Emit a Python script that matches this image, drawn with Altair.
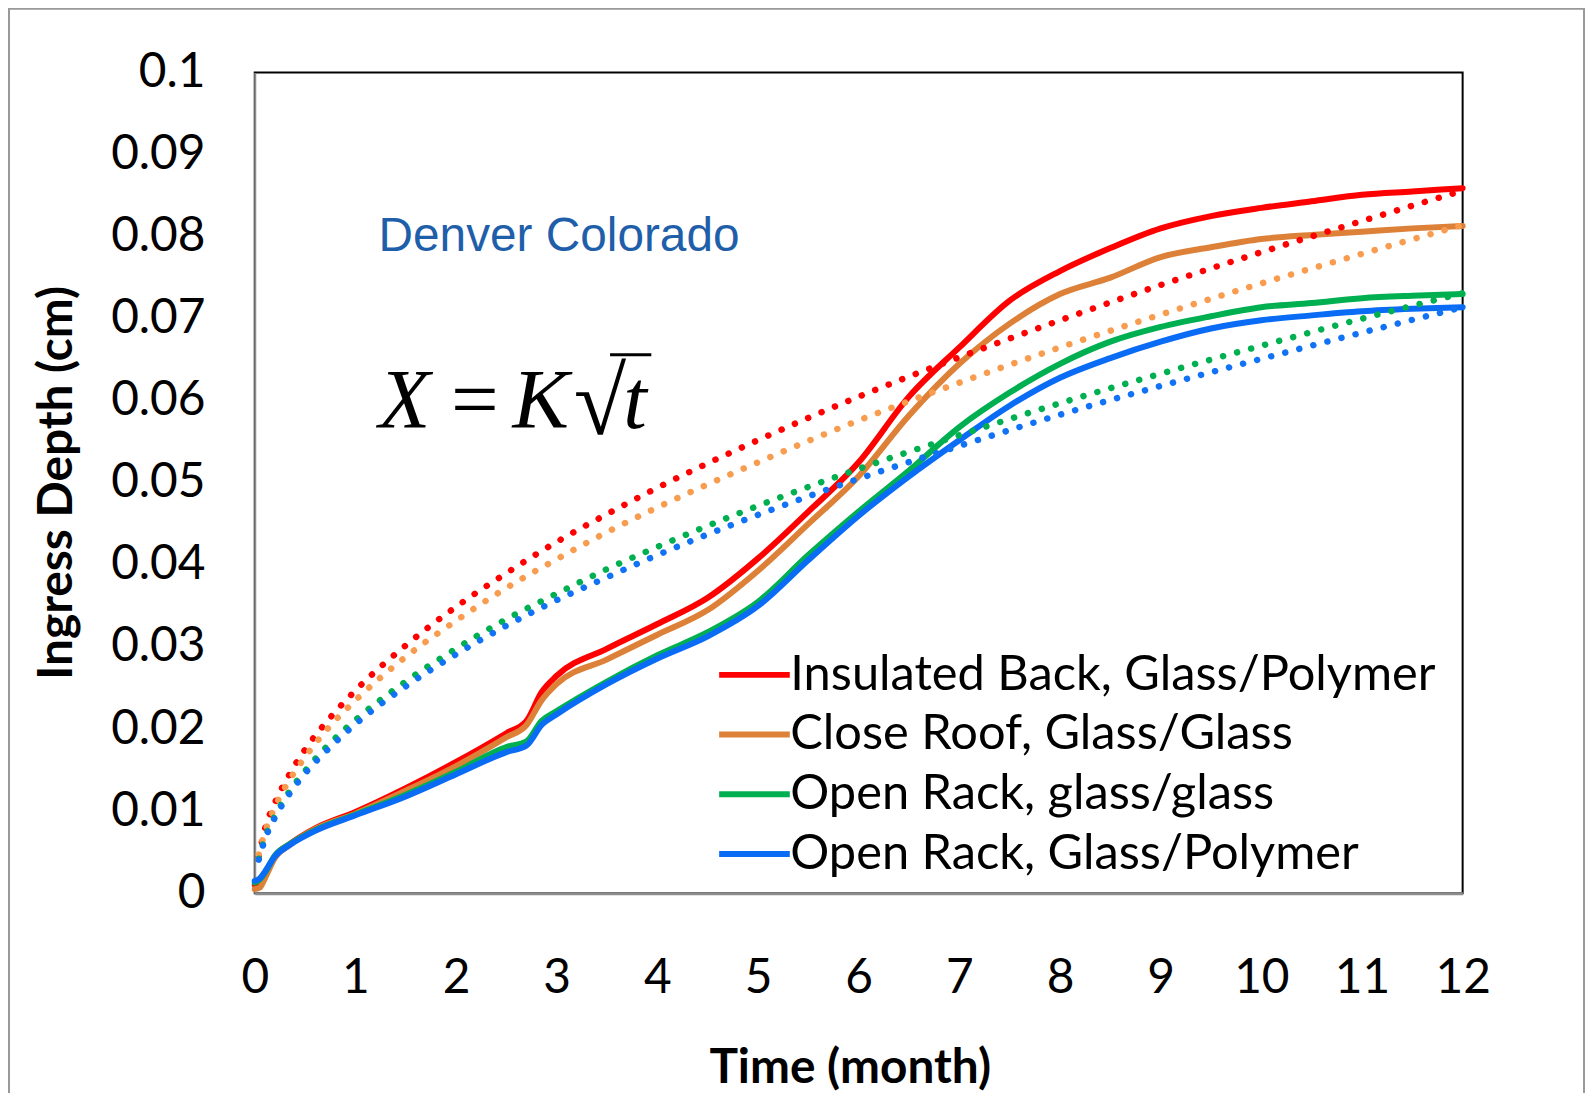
import altair as alt
import pandas as pd

# ---------------- data ----------------
series = ["Insulated Back, Glass/Polymer", "Close Roof, Glass/Glass",
          "Open Rack, glass/glass", "Open Rack, Glass/Polymer"]
solid_colors = ["#FF0000", "#DD8038", "#00B050", "#0A6CF5"]
dotted_colors = ["#FF0000", "#F89C50", "#00B050", "#1272F5"]

t_solid = [0, 0.05, 0.1, 0.2, 0.35, 0.6, 1, 1.5, 2, 2.5, 2.7, 2.85, 3, 3.5, 4, 4.5,
           5, 5.5, 6, 6.5, 7, 7.5, 8, 8.5, 9, 9.5, 10, 10.5, 11, 11.5, 12]
insulated = [0.001, 0.0012, 0.0022, 0.0045, 0.006, 0.0079, 0.0099, 0.0128, 0.016, 0.0195,
             0.021, 0.0245, 0.0265, 0.0298, 0.0328, 0.036, 0.0408, 0.0465, 0.0525, 0.0605,
             0.0665, 0.0722, 0.0758, 0.0786, 0.081, 0.0825, 0.0835, 0.0843, 0.0851, 0.0855, 0.0859]
close_roof = [0.0005, 0.0007, 0.0018, 0.0043, 0.0059, 0.0078, 0.0097, 0.0125, 0.0155, 0.019,
              0.0205, 0.0235, 0.0255, 0.0285, 0.0315, 0.0345, 0.0393, 0.045, 0.0508, 0.0582,
              0.0645, 0.0694, 0.073, 0.075, 0.0775, 0.0787, 0.0797, 0.0802, 0.0806, 0.081, 0.0813]
open_gg = [0.0013, 0.0017, 0.0025, 0.0046, 0.006, 0.0077, 0.0096, 0.012, 0.0148, 0.0178,
           0.0185, 0.021, 0.0222, 0.0258, 0.029, 0.0318, 0.0355, 0.0412, 0.0465, 0.0515,
           0.0568, 0.061, 0.0645, 0.0672, 0.069, 0.0703, 0.0714, 0.0719, 0.0725, 0.0728, 0.073]
open_gp = [0.0015, 0.0018, 0.0026, 0.0045, 0.0059, 0.0076, 0.0095, 0.0118, 0.0145, 0.0172,
           0.018, 0.0205, 0.0218, 0.0255, 0.0286, 0.0313, 0.035, 0.0406, 0.046, 0.0508,
           0.0552, 0.0594, 0.0628, 0.0652, 0.0672, 0.0688, 0.0698, 0.0704, 0.0709, 0.0712, 0.0714]

t_fit = [0.04, 0.1, 0.2, 0.35, 0.5, 0.75, 1, 1.5, 2, 2.5, 3, 3.5, 4, 5, 6, 7, 8, 9, 10, 11, 12]
fit_insulated = [0.0045, 0.0078, 0.011, 0.0146, 0.0175, 0.0214, 0.0247, 0.0302, 0.0349, 0.039,
                 0.0428, 0.0462, 0.0494, 0.0552, 0.0605, 0.0653, 0.0698, 0.0741, 0.0781, 0.0819, 0.0856]
fit_close_roof = [0.0047, 0.0074, 0.0105, 0.0139, 0.0166, 0.0204, 0.0235, 0.0288, 0.0332, 0.0372,
                  0.0407, 0.044, 0.047, 0.0525, 0.0576, 0.0622, 0.0665, 0.0705, 0.0743, 0.0779, 0.0814]
fit_open_gg = [0.0042, 0.0067, 0.0094, 0.0125, 0.0149, 0.0183, 0.0211, 0.0258, 0.0298, 0.0334,
               0.0365, 0.0395, 0.0422, 0.0472, 0.0517, 0.0558, 0.0597, 0.0633, 0.0667, 0.07, 0.0731]
fit_open_gp = [0.0041, 0.0065, 0.0092, 0.0122, 0.0146, 0.0178, 0.0206, 0.0252, 0.0291, 0.0326,
               0.0357, 0.0385, 0.0412, 0.0461, 0.0505, 0.0545, 0.0583, 0.0618, 0.0651, 0.0683, 0.0714]

x_ticks = list(range(0, 13))
y_ticks = [0, 0.01, 0.02, 0.03, 0.04, 0.05, 0.06, 0.07, 0.08, 0.09, 0.1]

# annotations (data coordinates)
label_text = ["Denver Colorado"]
label_t = [1.23]
label_v = [0.0783]
formula_italic_txt = ["X", "K", "t"]
formula_italic_t = [1.233, 2.56, 3.66]
formula_eq_txt = ["="]
formula_eq_t = [1.95]
formula_root_txt = ["\u221a"]
formula_root_t = [3.17]
formula_v = [0.0567]
formula_root_v = [0.0560]
bar_t = [3.53, 3.94]
bar_v = [0.0656]

# ---------------- tables ----------------
solid_rows = []
for name, vals in zip(series, [insulated, close_roof, open_gg, open_gp]):
    for t, v in zip(t_solid, vals):
        solid_rows.append({"t": t, "v": v, "s": name})
solid_df = pd.DataFrame(solid_rows)

fit_rows = []
for name, vals in zip(series, [fit_insulated, fit_close_roof, fit_open_gg, fit_open_gp]):
    for t, v in zip(t_fit, vals):
        fit_rows.append({"t": t, "v": v, "s": name})
fit_df = pd.DataFrame(fit_rows)

W, H = 1214, 825
xscale = alt.Scale(domain=[0, 12], nice=False, zero=False)
yscale = alt.Scale(domain=[0, 0.1], nice=False)

x_axis = alt.Axis(values=x_ticks, format="d", labelOverlap=False, labelFlush=False,
                  title="Time (month)", grid=False, ticks=False, tickSize=0,
                  labelFont="Lato", labelFontSize=48, labelColor="#000", labelPadding=62,
                  domainColor="#8C8C8C", domainWidth=3,
                  titleFont="Lato", titleFontSize=48, titleFontWeight="bold", titleColor="#000",
                  titleX=598, titleY=190, titleBaseline="alphabetic", titleAlign="center")
y_axis = alt.Axis(values=y_ticks, format="~g", labelOverlap=False, labelFlush=False,
                  title="Ingress Depth (cm)", grid=False, ticks=False,
                  tickSize=0, labelFont="Lato", labelFontSize=48, labelColor="#000", labelPadding=50,
                  labelBaseline="middle", domainColor="#8C8C8C", domainWidth=2,
                  titleFont="Lato", titleFontSize=48, titleFontWeight="bold", titleColor="#000",
                  titleX=-198, titleY=412, titleAngle=270, titleAlign="center", titleBaseline="middle")

frame = alt.Chart(pd.DataFrame({"a": [0]})).mark_rect(
    filled=False, stroke="#999999", strokeWidth=2
).encode(x=alt.value(-247), x2=alt.value(1336), y=alt.value(-64), y2=alt.value(1300))

solid = alt.Chart(solid_df).mark_line(strokeWidth=6, strokeCap="round", strokeJoin="round",
                                      interpolate="monotone").encode(
    x=alt.X("t:Q", scale=xscale, axis=x_axis),
    y=alt.Y("v:Q", scale=yscale, axis=y_axis),
    color=alt.Color("s:N", scale=alt.Scale(domain=series, range=solid_colors),
                    legend=alt.Legend(orient="none", legendX=460, legendY=581, title=None,
                                      symbolType="M-2,0H2", symbolSize=1260, symbolStrokeWidth=6,
                                      symbolOffset=17.75, symbolFillColor="transparent",
                                      labelFont="Lato", labelFontSize=49, labelColor="#000",
                                      labelOffset=11.5, rowPadding=10, labelLimit=0, padding=0)),
    order=alt.Order("t:Q"),
)

dotted = alt.Chart(fit_df).mark_line(strokeWidth=6.5, strokeCap="round", strokeDash=[0.1, 14.5],
                                     interpolate="monotone").encode(
    x=alt.X("t:Q", scale=xscale),
    y=alt.Y("v:Q", scale=yscale),
    color=alt.Color("s:N", scale=alt.Scale(domain=series, range=dotted_colors), legend=None),
    order=alt.Order("t:Q"),
)

denver = alt.Chart(pd.DataFrame({"t": label_t, "v": label_v, "txt": label_text})).mark_text(
    font="Liberation Sans", fontSize=48, color="#1F5FAA", align="left", baseline="alphabetic"
).encode(x=alt.X("t:Q", scale=xscale), y=alt.Y("v:Q", scale=yscale), text="txt:N")

f_it = pd.DataFrame({"t": formula_italic_t, "v": formula_v * 3, "txt": formula_italic_txt})
f_eq = pd.DataFrame({"t": formula_eq_t, "v": formula_v, "txt": formula_eq_txt})
f_rt = pd.DataFrame({"t": formula_root_t, "v": formula_root_v, "txt": formula_root_txt})

formula_it = alt.Chart(f_it).mark_text(
    font="Liberation Serif", fontSize=85, fontStyle="italic", color="#000", align="left",
    baseline="alphabetic"
).encode(x=alt.X("t:Q", scale=xscale), y=alt.Y("v:Q", scale=yscale), text="txt:N")
formula_eq = alt.Chart(f_eq).mark_text(
    font="Liberation Serif", fontSize=85, color="#000", align="left", baseline="alphabetic"
).encode(x=alt.X("t:Q", scale=xscale), y=alt.Y("v:Q", scale=yscale), text="txt:N")
formula_rt = alt.Chart(f_rt).mark_text(
    font="Liberation Serif", fontSize=96, color="#000", align="left", baseline="alphabetic"
).encode(x=alt.X("t:Q", scale=xscale), y=alt.Y("v:Q", scale=yscale), text="txt:N")
bar = alt.Chart(pd.DataFrame({"t": [bar_t[0]], "t2": [bar_t[1]], "v": bar_v})).mark_rule(
    color="#000", strokeWidth=3
).encode(x=alt.X("t:Q", scale=xscale), x2="t2:Q", y=alt.Y("v:Q", scale=yscale))

chart = alt.layer(frame, solid, dotted, denver, formula_it, formula_eq, formula_rt, bar).resolve_scale(
    color="independent"
).properties(
    width=W, height=H,
    autosize=alt.AutoSizeParams(type="none"),
    padding={"left": 248, "top": 62, "right": 125, "bottom": 198},
    background="white",
).configure_view(stroke="#000", strokeWidth=2)

chart.save("out.html", embed_options={"renderer": "svg", "actions": False})
